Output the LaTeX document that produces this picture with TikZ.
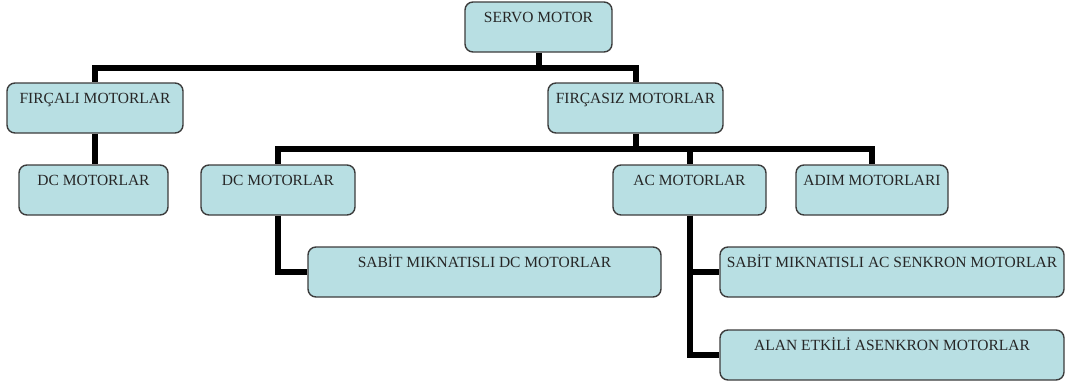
\documentclass[tikz,border=0pt]{standalone}
\usepackage{fontspec}
\setmainfont{Liberation Serif}
\usepackage{tikz}
\usetikzlibrary{positioning,calc}
\definecolor{boxFill}{RGB}{184,223,227}
\definecolor{boxLine}{RGB}{60,60,60}

\begin{document}
\begin{tikzpicture}[
        x=1pt, y=-1pt,
        motor/.style={draw=boxLine, line width=1.4pt, rounded corners=8pt, fill=boxFill,
          inner sep=0pt, minimum height=50pt, text height=20.5pt, text depth=29.5pt,
          align=center, text=black!85, font=\fontsize{15.5}{18}\selectfont},
        link/.style={line width=6pt, black}
      ]
        \useasboundingbox (0,0) rectangle (1067,383);

        % top levels
        \node[motor, minimum width=147pt] (servo) at (538.5,27) {SERVO MOTOR};
        \node[motor, minimum width=176pt] (fircali) at (95,108) {FIRÇALI MOTORLAR};
        \node[motor, minimum width=175pt] (fircasiz) at (635.5,108) {FIRÇASIZ MOTORLAR};

        \node[motor, minimum width=149pt] (dcbrush) at (93.5,190) {DC MOTORLAR};
        \node[motor, minimum width=154pt] (dcless) at (278,190) {DC MOTORLAR};
        \node[motor, minimum width=153pt] (ac) at (689.5,190) {AC MOTORLAR};
        \node[motor, minimum width=152pt] (adim) at (872,190) {ADIM MOTORLARI};

        % bottom level
        \node[motor, minimum width=353pt] (sabitdc) at (484.5,272) {SABİT MIKNATISLI DC MOTORLAR};
        \node[motor, minimum width=344pt] (sabitac) at (892,272) {SABİT MIKNATISLI AC SENKRON MOTORLAR};
        \node[motor, minimum width=344pt] (alan) at (892,355) {ALAN ETKİLİ ASENKRON MOTORLAR};

        % connectors
        \coordinate (bus1) at (538.5,68);
        \coordinate (bus2) at (635.5,149);
        \draw[link] (servo.south) -- (bus1) -| (fircali.north);
        \draw[link] (bus1) -| (fircasiz.north);
        \draw[link] (fircali.south) -- (fircali.south |- dcbrush.north);
        \draw[link] (fircasiz.south) -- (bus2) -| (dcless.north);
        \draw[link] (bus2) -| (ac.north);
        \draw[link] (bus2) -| (adim.north);
        \draw[link] (dcless.south) |- (sabitdc.west);
        \draw[link] (ac.south) |- (sabitac.west);
        \draw[link] (ac.south) |- (alan.west);
      \end{tikzpicture}
\end{document}
